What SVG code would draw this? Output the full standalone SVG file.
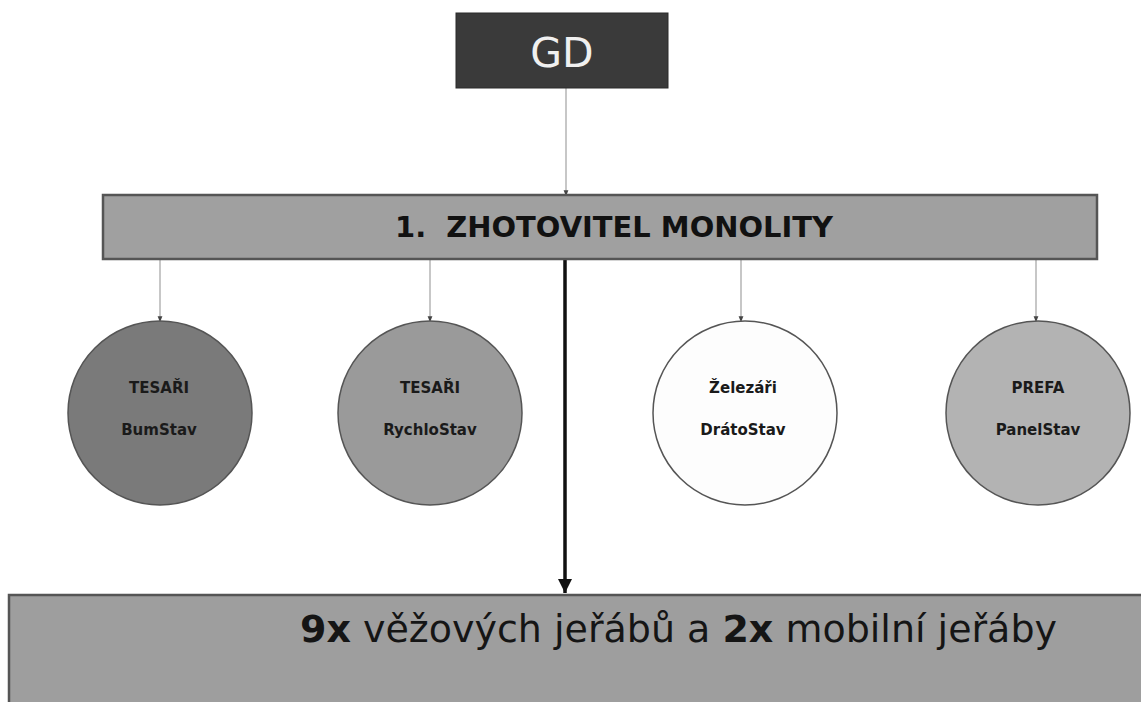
<svg xmlns="http://www.w3.org/2000/svg" width="1141" height="702" viewBox="0 0 1141 702">
<style>
.lbl{font-family:"DejaVu Sans","Verdana",sans-serif;}
.thin{stroke:#b4b4b4;stroke-width:1.5;fill:none;marker-end:url(#dot);}
.circ{stroke:#555;stroke-width:1.5;}
.ctext{font-family:"DejaVu Sans",sans-serif;font-weight:bold;font-size:15px;fill:#1a1a1a;text-anchor:middle;}
</style>
<defs>
<marker id="dot" viewBox="0 0 10 10" refX="8" refY="5" markerWidth="6" markerHeight="6" markerUnits="userSpaceOnUse" orient="auto">
<path d="M0,1 L10,5 L0,9 z" fill="#444"/>
</marker>
<marker id="big" viewBox="0 0 10 10" refX="10" refY="5" markerWidth="14" markerHeight="14" markerUnits="userSpaceOnUse" orient="auto">
<path d="M0,0 L10,5 L0,10 z" fill="#111"/>
</marker>
</defs>
<rect width="1141" height="702" fill="#ffffff"/>
<g id="connectors">
<line class="thin" x1="566" y1="88" x2="566" y2="195"/>
<line class="thin" x1="160" y1="259" x2="160" y2="321"/>
<line class="thin" x1="430" y1="259" x2="430" y2="321"/>
<line class="thin" x1="741" y1="259" x2="741" y2="321"/>
<line class="thin" x1="1036" y1="259" x2="1036" y2="321"/>
<line x1="565" y1="259" x2="565" y2="593" stroke="#111" stroke-width="3.5" marker-end="url(#big)"/>
</g>
<g id="gd">
<rect x="456" y="13" width="212" height="75" fill="#3a3a3a" stroke="#2a2a2a" stroke-width="1"/>
<text class="lbl" x="562" y="67" font-size="41" fill="#f0f0f0" text-anchor="middle">GD</text>
</g>
<g id="zhotovitel">
<rect x="103" y="195" width="994" height="64" fill="#a0a0a0" stroke="#555" stroke-width="2.5"/>
<text class="lbl" x="395" y="237" font-size="29" font-weight="bold" fill="#111" textLength="438" lengthAdjust="spacingAndGlyphs" style="white-space:pre">1.  ZHOTOVITEL MONOLITY</text>
</g>
<g id="tesari-bumstav">
<circle class="circ" cx="160" cy="413" r="92" fill="#7a7a7a"/>
<text class="ctext" x="159" y="393">TESAŘI</text>
<text class="ctext" x="159" y="435">BumStav</text>
</g>
<g id="tesari-rychlostav">
<circle class="circ" cx="430" cy="413" r="92" fill="#9a9a9a"/>
<text class="ctext" x="430" y="393">TESAŘI</text>
<text class="ctext" x="430" y="435">RychloStav</text>
</g>
<g id="zelezari-dratostav">
<circle class="circ" cx="745" cy="413" r="92" fill="#fdfdfd"/>
<text class="ctext" x="743" y="393">Železáři</text>
<text class="ctext" x="743" y="435">DrátoStav</text>
</g>
<g id="prefa-panelstav">
<circle class="circ" cx="1038" cy="413" r="92" fill="#b3b3b3"/>
<text class="ctext" x="1038" y="393">PREFA</text>
<text class="ctext" x="1038" y="435">PanelStav</text>
</g>
<g id="jeraby">
<rect x="9" y="595" width="1145" height="120" fill="#9e9e9e" stroke="#555" stroke-width="2.5"/>
<text class="lbl" x="300" y="642" font-size="37" fill="#151515" textLength="757" lengthAdjust="spacingAndGlyphs" style="white-space:pre"><tspan font-weight="bold">9x</tspan> věžových jeřábů a <tspan font-weight="bold">2x</tspan> mobilní jeřáby</text>
</g>
</svg>
